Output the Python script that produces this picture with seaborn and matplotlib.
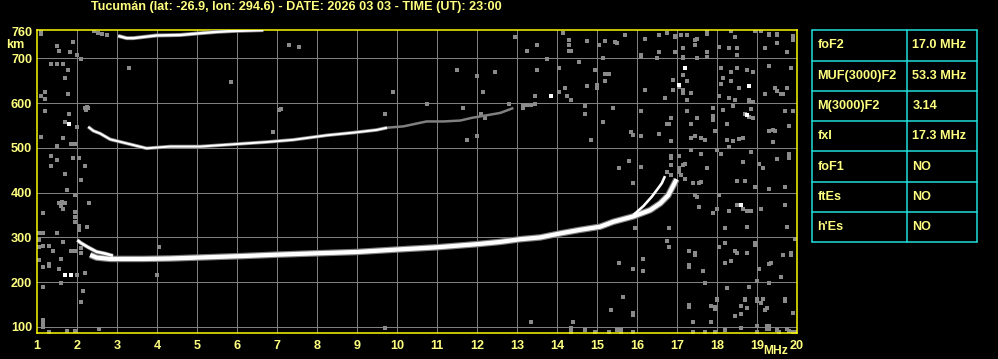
import numpy as np
import pandas as pd
import matplotlib
matplotlib.use("Agg")
import matplotlib.pyplot as plt
import seaborn as sns

# ---------------- data ----------------
TITLE = "Tucumán (lat: -26.9, lon: 294.6) - DATE: 2026 03 03 - TIME (UT): 23:00"
x_ticks = list(range(1, 21))
y_ticks = [100, 200, 300, 400, 500, 600, 700, 760]
x_label = "MHz"
y_label = "km"

# F-layer trace (first hop), frequency MHz / virtual height km
f_F = [2.33, 2.49, 2.83, 3.66, 4.33, 5.33, 6.16, 6.99, 7.99, 8.99, 10.0, 11.0, 12.0,
       12.58, 13.08, 13.58, 14.08, 14.58, 15.08, 15.41, 15.91, 16.33, 16.58, 16.78, 16.99]
h_F = [261, 255, 252, 252, 253, 256, 258.5, 261.5, 264.6, 267.5, 273, 278, 285,
       290, 296, 300, 309, 317, 324, 335, 347, 361, 376, 394, 430]
# upper start branch
f_F_start = [2.01, 2.09, 2.28, 2.49, 2.70, 2.90]
h_F_start = [294, 288, 278, 268, 264, 259]
# split branch near the critical frequency
f_F_split = [15.91, 16.16, 16.37, 16.53, 16.62, 16.70]
h_F_split = [350, 370, 391, 410, 421, 437]
# second hop
f_2F = [2.28, 2.41, 2.58, 2.83, 3.24, 3.74, 4.33, 5.08, 5.91, 6.74, 7.41, 8.24, 8.91, 9.49, 9.75]
h_2F = [547, 538, 532, 519, 510, 499, 503, 503, 508, 513, 518, 528, 534, 540, 545]
f_2F_faint = [9.75, 10.16, 10.74, 11.16, 11.58, 11.87, 12.58, 12.91]
h_2F_faint = [545, 548, 559, 559, 561, 567, 578, 589]
# third hop
f_3F = [3.03, 3.24, 3.41, 3.99, 4.58, 5.08, 5.49, 5.91, 6.66]
h_3F = [750, 745, 745, 751, 752, 756, 759, 761, 763]

# scattered noise echoes
noise_f = [1.09, 1.51, 1.56, 1.89, 1.83, 2.09, 1.99, 2.11, 1.34, 1.49, 1.64, 1.77, 1.71, 1.19, 1.19, 1.09, 1.78,
           1.19, 1.79, 1.70, 2.01, 2.20, 2.24, 2.27, 2.22, 1.09, 1.64, 1.84, 1.95, 1.49, 1.34, 1.49, 1.89, 2.04,
           1.34, 2.19, 1.69, 2.09, 1.74, 1.94, 1.54, 1.62, 1.70, 1.59, 1.64, 2.29, 1.94, 1.94, 1.94, 1.14, 2.04,
           2.04, 2.24, 1.04, 1.14, 1.49, 1.04, 1.04, 1.14, 1.29, 1.39, 1.64, 1.84, 1.94, 2.09, 2.09, 1.04, 1.59,
           1.29, 1.29, 1.14, 1.54, 2.01, 2.19, 1.59, 1.14, 2.14, 2.09, 1.14, 1.14, 1.14, 1.29, 1.74, 1.94, 2.54,
           3.29, 5.84, 7.29, 7.56, 2.43, 2.53, 2.63, 2.74, 1.09, 7.04, 7.09, 6.89, 4.04, 3.99,
           9.89, 9.69, 11.49, 12.44, 11.99, 12.14, 11.64, 10.74, 12.94, 13.24, 13.49, 13.49, 13.74, 14.04, 14.14,
           14.29, 14.29, 14.29, 14.34, 14.74, 14.54, 14.94, 15.04, 13.44, 14.04, 14.19, 14.24, 14.34, 14.74,
           14.99, 14.99, 14.69, 14.69, 14.84, 13.14, 13.14, 13.24, 13.34, 13.44, 12.09, 12.19, 11.74, 11.99, 12.79,
           15.69, 15.19, 15.44, 15.49, 16.19, 16.54, 16.74, 16.94, 16.94, 17.09, 17.24, 17.44, 17.44, 17.49, 17.74,
           17.74, 18.34, 18.44, 18.29, 18.49, 18.49, 18.94, 19.09, 19.29, 19.29, 19.49, 19.49, 19.89, 19.89, 19.89,
           19.49, 19.19, 19.74, 16.09, 16.09, 16.54, 16.94, 17.14, 17.14, 17.14, 17.74, 17.74, 17.49, 18.04, 15.14,
           16.49, 17.14, 16.89, 17.24, 17.04, 17.14, 17.14, 17.34, 16.19, 16.89, 16.69, 17.24, 15.19, 15.29, 15.19,
           18.09, 18.34, 18.49, 18.74, 18.89, 19.29, 19.84, 18.14, 18.34, 18.09, 18.54, 19.44, 19.49, 19.74, 19.19,
           19.59, 19.64, 18.04, 18.29, 18.44, 18.79, 18.79, 18.89,
           17.89, 18.14, 18.39, 18.69, 18.79, 18.89, 18.84, 17.89, 17.89, 16.84, 17.24, 17.49, 16.74, 16.79, 16.09,
           15.39, 15.14, 15.84, 15.89, 16.09, 16.54, 16.84, 17.34, 17.34, 17.44, 17.59, 17.69, 17.94, 18.24, 18.26,
           18.39, 18.54, 18.64, 19.29, 19.39, 19.44, 19.69, 19.89, 19.79, 19.39,
           16.84, 16.84, 17.04, 17.14, 17.19, 17.04, 17.04, 17.09, 16.84, 16.84, 17.34, 17.59, 17.74, 17.99, 18.09,
           18.29, 18.64, 18.84, 19.04, 19.14, 19.49, 19.79, 19.79, 15.79, 15.54, 16.09, 16.74, 17.19, 17.59,
           15.89, 17.39, 17.54, 18.49, 18.69, 18.94, 19.29, 19.69, 17.44, 17.49, 18.04, 18.49, 18.64, 18.74, 18.84,
           18.29, 17.54, 17.89, 17.99, 19.09, 19.69, 18.74, 18.19, 19.74, 16.79, 15.94, 18.19, 18.94, 18.94, 18.44,
           18.49, 18.74, 18.04, 16.74, 16.79, 17.29, 17.44, 17.44, 18.19, 18.34, 19.34, 19.64, 19.84, 19.84, 19.94,
           16.14, 15.54, 15.89, 16.14, 17.29, 17.29, 17.64, 19.04, 19.29, 19.59, 18.99, 17.69, 19.29, 18.79, 18.24,
           15.64, 17.99, 17.99, 18.69, 18.69, 18.99, 18.99, 19.14, 19.09, 19.69, 19.69, 17.29, 17.29, 17.84, 17.94,
           17.94, 18.59, 18.74, 19.19, 19.24, 15.89, 15.89, 15.34, 18.44, 18.59, 19.89, 17.39, 17.84, 18.59, 19.24,
           19.29, 19.24, 19.29, 19.49, 19.54, 19.76, 19.79, 19.89, 19.94, 18.99, 18.99, 18.19, 17.39, 17.69, 17.94,
           15.59, 15.89, 15.29, 9.69, 13.34, 14.39, 14.34, 14.34, 14.69, 14.94, 15.49, 15.59]
noise_h = [754, 728, 716, 736, 713, 698, 708, 699, 688, 688, 688, 674, 657, 625, 610, 616, 620,
           582, 576, 558, 546, 588, 592, 588, 585, 525, 522, 509, 509, 504, 482, 473, 478, 478,
           460, 460, 442, 428, 407, 395, 378, 380, 378, 370, 363, 378, 357, 346, 335, 355, 325,
           316, 324, 309, 310, 311, 294, 279, 281, 281, 270, 289, 270, 270, 276, 265, 250, 252,
           240, 236, 235, 230, 215, 221, 198, 190, 181, 156, 116, 109, 100, 89, 90, 90, 95,
           678, 647, 730, 725, 760, 757, 755, 753, 758, 584, 586, 535, 279, 216,
           625, 576, 674, 669, 661, 625, 589, 598, 748, 717, 730, 674, 699, 678, 757,
           740, 730, 717, 717, 739, 692, 674, 730, 616, 625, 634, 616, 607, 638,
           640, 634, 593, 576, 518, 595, 590, 595, 595, 597, 576, 567, 518, 527, 598,
           753, 739, 737, 735, 744, 753, 757, 750, 747, 753, 753, 740, 730, 744, 758,
           755, 760, 748, 722, 722, 708, 760, 760, 755, 752, 755, 752, 750, 745, 740,
           735, 722, 713, 707, 704, 713, 713, 722, 704, 700, 713, 704, 700, 726, 700,
           700, 663, 652, 649, 635, 630, 623, 622, 630, 630, 611, 608, 666, 666, 649,
           678, 669, 678, 674, 669, 683, 678, 656, 649, 643, 634, 634, 626, 634, 620,
           620, 620, 616, 611, 607, 607, 604, 602,
           589, 585, 593, 576, 569, 566, 586, 571, 562, 567, 582, 567, 554, 554, 582,
           589, 558, 535, 529, 527, 532, 515, 554, 522, 527, 522, 518, 537, 553, 518,
           515, 520, 522, 538, 540, 537, 582, 582, 549, 513,
           481, 477, 482, 462, 465, 454, 447, 440, 462, 440, 495, 486, 455, 495, 486,
           502, 468, 491, 464, 454, 475, 486, 477, 470, 455, 457, 446, 431, 424,
           422, 422, 422, 425, 425, 413, 409, 413, 395, 391, 395, 373, 364, 360, 360,
           360, 369, 355, 364, 364, 373, 324, 320, 324, 320, 320, 288, 288, 284, 270,
           266, 266, 279, 293, 279, 270, 266, 261, 244, 248, 244, 261, 266, 261, 297,
           252, 244, 230, 226, 239, 235, 226, 230, 240, 212, 203, 199, 199, 190, 186,
           168, 163, 160, 163, 160, 163, 159, 163, 154, 162, 159, 150, 145, 147, 145,
           141, 147, 142, 138, 142, 132, 127, 138, 125, 129, 132, 111, 111, 98, 102,
           102, 95, 95, 93, 89, 96, 92, 89, 89, 102, 89, 93, 89, 89, 89,
           93, 89, 89, 98, 111, 111, 98, 89, 93, 89, 93, 89]
white_f = [1.79, 1.69, 1.84, 13.84, 17.19, 17.04, 18.79, 18.74, 18.59]
white_h = [553, 217, 217, 616, 678, 640, 639, 573, 373]

params = ["foF2", "MUF(3000)F2", "M(3000)F2", "fxI", "foF1", "ftEs", "h'Es"]
values = ["17.0 MHz", "53.3 MHz", "3.14", "17.3 MHz", "NO", "NO", "NO"]

# ---------------- style ----------------
sns.set_style("dark")
plt.rcParams["font.family"] = ["Liberation Sans", "DejaVu Sans"]
plt.rcParams["font.weight"] = "bold"
TXT = "#FFFF80"
BORDER = "#FFFF00"
GRID = "#808080"
CYAN = "#20E0E0"
PX = 0.72  # points per pixel at dpi 100
FS = 9.1

fig = plt.figure(figsize=(9.98, 3.59), dpi=100, facecolor="black")
ax = fig.add_axes([37 / 998, (359 - 333) / 359, 760 / 998, 303 / 359])
ax.set_facecolor("black")
ax.set_xlim(1, 20)
ax.set_ylim(86.6, 763.2)
ax.grid(False)

for xv in x_ticks[1:-1]:
    ax.axvline(xv, color=GRID, lw=1 * PX, zorder=1)
for yv in y_ticks[:-1]:
    ax.axhline(yv, color=GRID, lw=1 * PX, zorder=1)

# noise
sns.scatterplot(x=noise_f, y=noise_h, ax=ax, color="#8a8a8a", marker="s", s=5,
                linewidth=0, zorder=2)
sns.scatterplot(x=white_f, y=white_h, ax=ax, color="white", marker="s", s=5,
                linewidth=0, zorder=2)

def trace(fx, hy, color, lw, z=3):
    sns.lineplot(x=fx, y=hy, ax=ax, color=color, lw=lw * PX, sort=False,
                 estimator=None, zorder=z, solid_capstyle="butt")

# gray fringes
trace(f_F, h_F, "#808080", 6.5, 3)
trace(f_F_start, h_F_start, "#808080", 4, 3)
trace(f_3F, h_3F, "#808080", 4, 3)
trace(f_2F, h_2F, "#808080", 3.6, 3)
trace(f_2F_faint, h_2F_faint, "#808080", 2.5, 3)
# white echoes
trace(f_F, h_F, "white", 4.2, 4)
trace(f_F_start, h_F_start, "white", 2.6, 4)
trace(f_F_split, h_F_split, "white", 2.6, 4)
trace(f_2F, h_2F, "white", 2.0, 4)
trace(f_3F, h_3F, "white", 2.4, 4)

ax.set_xticks(x_ticks)
ax.set_xticklabels([str(v) for v in x_ticks])
ax.set_yticks(y_ticks)
ax.set_yticklabels([str(v) for v in y_ticks])
ax.tick_params(length=0, colors=TXT, labelsize=FS)
ax.tick_params(axis="x", pad=5.0)
ax.tick_params(axis="y", pad=3.5)
for lab in ax.get_xticklabels() + ax.get_yticklabels():
    lab.set_fontweight("bold")
ax.set_xlabel("")
ax.set_ylabel("")
for sp in ax.spines.values():
    sp.set_visible(True)
    sp.set_color(BORDER)
    sp.set_linewidth(1.5 * PX)

fig.text(91 / 998, 1 - 7 / 359, TITLE, color=TXT, fontsize=FS, fontweight="bold",
         ha="left", va="center")
fig.text(6 / 998, 1 - 45 / 359, y_label, color=TXT, fontsize=FS, fontweight="bold",
         ha="left", va="center")
fig.text(788 / 998, 1 - 351 / 359, x_label, color=TXT, fontsize=FS - 0.4, fontweight="bold",
         ha="right", va="center")

# parameter table
tx0, tx1, ty0, ty1 = 812, 977.3, 30.3, 242.3
tab = fig.add_axes([tx0 / 998, 1 - ty1 / 359, (tx1 - tx0) / 998, (ty1 - ty0) / 359])
tab.set_xlim(0, 1)
tab.set_ylim(len(params), 0)
tab.axis("off")
div = (907.3 - tx0) / (tx1 - tx0)
for i in range(len(params) + 1):
    tab.axhline(i, color=CYAN, lw=1.5 * PX, clip_on=False)
for xv in (0, div, 1):
    tab.axvline(xv, color=CYAN, lw=1.5 * PX, clip_on=False)
for i, (p, v) in enumerate(zip(params, values)):
    tab.text((817.3 - tx0) / (tx1 - tx0), i + 0.5, p, color=TXT, fontsize=FS,
             fontweight="bold", ha="left", va="center")
    tab.text((912.3 - tx0) / (tx1 - tx0), i + 0.5, v, color=TXT, fontsize=FS,
             fontweight="bold", ha="left", va="center")

fig.savefig("out.png", dpi=100, facecolor="black")
